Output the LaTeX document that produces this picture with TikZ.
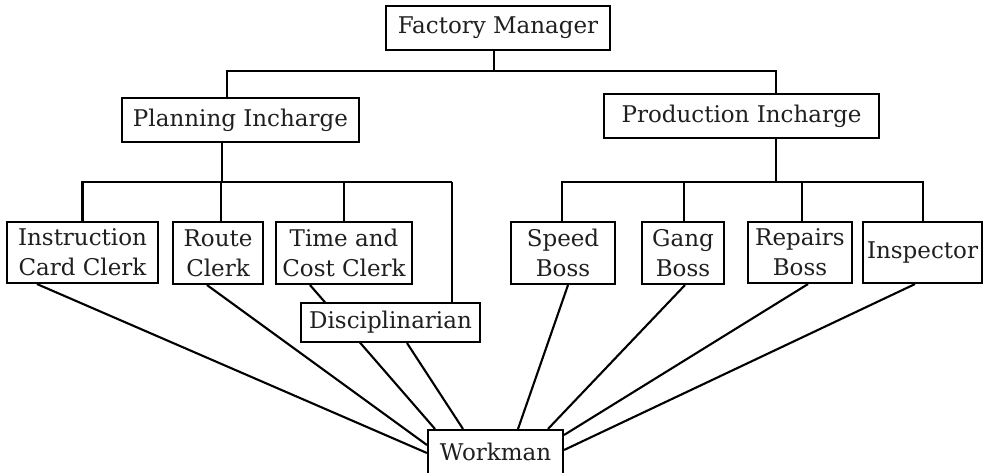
\documentclass[tikz,border=0pt]{standalone}
\usepackage{fontspec}
\setmainfont{DejaVu Serif}
\begin{document}
\begin{tikzpicture}[x=1pt,y=-1pt,
  box/.style={draw,line width=2.1pt,fill=white,inner sep=0pt,align=center,
    text=black!88,font=\fontsize{23}{30}\selectfont},
  conn/.style={line width=2.1pt}]
\useasboundingbox (0,0) rectangle (983,473);
\node[box,minimum width=224pt,minimum height=44pt] (FM) at (498,28) {Factory Manager};
\node[box,minimum width=237pt,minimum height=44pt] (PI) at (240.5,120) {Planning Incharge};
\node[box,minimum width=275pt,minimum height=44pt] (PrI) at (741.5,116) {Production Incharge};
\node[box,minimum width=151pt,minimum height=61pt] (ICC) at (82.5,252.5) {Instruction\\Card Clerk};
\node[box,minimum width=90pt,minimum height=62pt] (RC) at (218,253) {Route\\Clerk};
\node[box,minimum width=136pt,minimum height=62pt] (TCC) at (344,253) {Time and\\Cost Clerk};
\node[box,minimum width=104pt,minimum height=62pt] (SB) at (563,253) {Speed\\Boss};
\node[box,minimum width=82pt,minimum height=62pt] (GB) at (683,253) {Gang\\Boss};
\node[box,minimum width=104pt,minimum height=61pt] (RB) at (800,252.5) {Repairs\\Boss};
\node[box,minimum width=119pt,minimum height=61pt] (IN) at (922.5,252.5) {Inspector};
\node[box,minimum width=135pt,minimum height=44pt] (W) at (495.5,452) {Workman};
% top tree
\coordinate (jt) at (0,71);
\draw[conn] ([xshift=-4pt]FM.south) -- ([xshift=-4pt]FM.south |- jt);
\draw[conn] ([xshift=-13.5pt]PI.north) |- ([xshift=34.5pt]PrI.north |- jt) -- ([xshift=34.5pt]PrI.north);
% planning subtree
\coordinate (jp) at (0,182);
\coordinate (dx) at (452,0);
\draw[conn] ([xshift=-18.5pt]PI.south) -- ([xshift=-18.5pt]PI.south |- jp);
\draw[conn] (ICC.north) |- (dx |- jp);
\draw[conn] ([xshift=3pt]RC.north) -- ([xshift=3pt]RC.north |- jp);
\draw[conn] (TCC.north) -- (TCC.north |- jp);
% production subtree
\draw[conn] ([xshift=34.5pt]PrI.south) -- ([xshift=34.5pt]PrI.south |- jp);
\draw[conn] ([xshift=-1pt]SB.north) |- ([xshift=0.5pt]IN.north |- jp) -- ([xshift=0.5pt]IN.north);
\draw[conn] ([xshift=1pt]GB.north) -- ([xshift=1pt]GB.north |- jp);
\draw[conn] ([xshift=2pt]RB.north) -- ([xshift=2pt]RB.north |- jp);
% time and cost clerk to workman, behind disciplinarian
\draw[conn] ([xshift=-34pt]TCC.south) -- ([xshift=-60.5pt]W.north);
\node[box,minimum width=179pt,minimum height=39pt] (D) at (390.5,322.5) {Disciplinarian};
\draw[conn] (dx |- jp) -- (dx |- D.north);
% lines to workman
\draw[conn] ([xshift=-45.5pt]ICC.south) -- ([yshift=-1pt]W.west);
\draw[conn] ([xshift=-11pt]RC.south) -- ([yshift=7pt]W.west);
\draw[conn] ([xshift=16.5pt]D.south) -- ([xshift=-32.5pt]W.north);
\draw[conn] ([xshift=5pt]SB.south) -- ([xshift=22.5pt]W.north);
\draw[conn] ([xshift=2pt]GB.south) -- ([xshift=52.5pt]W.north);
\draw[conn] ([xshift=8pt]RB.south) -- ([yshift=17pt]W.east);
\draw[conn] ([xshift=-7.5pt]IN.south) -- ([yshift=2pt]W.east);
\end{tikzpicture}
\end{document}
